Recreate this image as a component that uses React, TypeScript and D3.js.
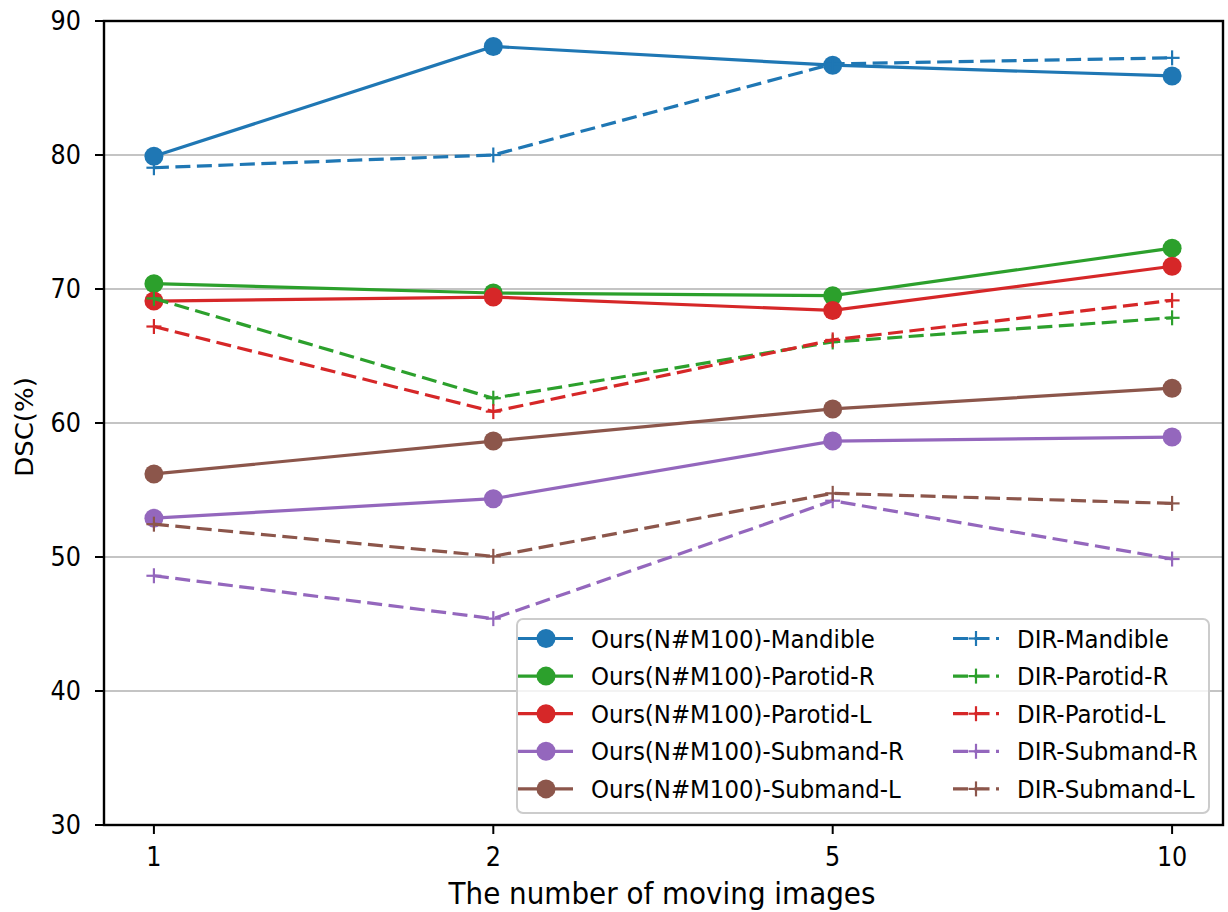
import React from "react";
import * as d3 from "d3";

const categories = ["1", "2", "5", "10"];
const organs = ["Mandible", "Parotid-R", "Parotid-L", "Submand-R", "Submand-L"];
const colors = ["#1f77b4", "#2ca02c", "#d62728", "#9467bd", "#8c564b"];

const oursMandible = [79.9, 88.1, 86.7, 85.9];
const oursParotidR = [70.4, 69.7, 69.5, 73.05];
const oursParotidL = [69.1, 69.4, 68.4, 71.7];
const oursSubmandR = [52.9, 54.35, 58.65, 58.95];
const oursSubmandL = [56.2, 58.65, 61.05, 62.6];

const dirMandible = [79.05, 80.0, 86.8, 87.25];
const dirParotidR = [69.3, 61.85, 66.05, 67.85];
const dirParotidL = [67.2, 60.85, 66.2, 69.15];
const dirSubmandR = [48.6, 45.4, 54.2, 49.85];
const dirSubmandL = [52.45, 50.05, 54.75, 54.0];

const yTicks = [30, 40, 50, 60, 70, 80, 90];

const oursSeries = [oursMandible, oursParotidR, oursParotidL, oursSubmandR, oursSubmandL];
const dirSeries = [dirMandible, dirParotidR, dirParotidL, dirSubmandR, dirSubmandL];

const FONT = "DejaVu Sans, sans-serif";

function T(props: {
  x: number;
  y: number;
  size: number;
  sx?: number;
  anchor?: "start" | "middle" | "end";
  rotate?: number;
  dy?: string;
  children: React.ReactNode;
}) {
  const { x, y, size, sx = 0.92, anchor = "start", rotate = 0, dy } = props;
  const tr = rotate
    ? `translate(${x},${y}) rotate(${rotate}) scale(1,${sx})`
    : `translate(${x},${y}) scale(${sx},1)`;
  return (
    <text transform={tr} textAnchor={anchor} fontFamily={FONT} fontSize={size} fill="#000" dy={dy}>
      {props.children}
    </text>
  );
}

export default function App() {
  const W = 1228, H = 912;
  const left = 104, right = 1223, top = 21, bottom = 825;
  const x = d3.scalePoint<string>().domain(categories).range([left - 1, right]).padding(0.15);
  const y = d3.scaleLinear().domain([30, 90]).range([bottom, top]);
  const line = d3.line<number>().x((_, i) => x(categories[i])!).y((d) => y(d));
  const lw = 3.2;
  const dash = "15,6.5";
  const ph = 7.5;

  const lgL = 517, lgT = 619, lgR = 1209, lgB = 813;
  const rowY = (i: number) => 638.5 + i * 37.6;

  return (
    <svg width={W} height={H} style={{ position: "absolute", left: 0, top: 0, background: "#fff" }}>
      <rect x={0} y={0} width={W} height={H} fill="#fff" />
      {yTicks.map((t) => (
        <line key={"g" + t} x1={left} x2={right} y1={y(t)} y2={y(t)} stroke="#b0b0b0" strokeWidth={1.6} />
      ))}
      {oursSeries.map((s, k) => (
        <g key={"o" + k}>
          <path d={line(s)!} fill="none" stroke={colors[k]} strokeWidth={lw} />
          {s.map((v, i) => (
            <circle key={i} cx={x(categories[i])} cy={y(v)} r={9.5} fill={colors[k]} />
          ))}
        </g>
      ))}
      {dirSeries.map((s, k) => (
        <g key={"d" + k}>
          <path d={line(s)!} fill="none" stroke={colors[k]} strokeWidth={lw} strokeDasharray={dash} />
          {s.map((v, i) => {
            const cx = x(categories[i])!, cy = y(v);
            return (
              <g key={i} stroke={colors[k]} strokeWidth={2.2}>
                <line x1={cx - ph} x2={cx + ph} y1={cy} y2={cy} />
                <line x1={cx} x2={cx} y1={cy - ph} y2={cy + ph} />
              </g>
            );
          })}
        </g>
      ))}
      <rect x={left} y={top} width={right - left} height={bottom - top} fill="none" stroke="#000" strokeWidth={2.4} />
      {yTicks.map((t) => (
        <g key={"yt" + t}>
          <line x1={left - 9} x2={left} y1={y(t)} y2={y(t)} stroke="#000" strokeWidth={2} />
          <T x={81} y={y(t)} size={26} anchor="end" dy="0.36em">
            {t}
          </T>
        </g>
      ))}
      {categories.map((c) => (
        <g key={"xt" + c}>
          <line x1={x(c)} x2={x(c)} y1={bottom} y2={bottom + 9} stroke="#000" strokeWidth={2} />
          <T x={x(c)!} y={866} size={26} anchor="middle">
            {c}
          </T>
        </g>
      ))}
      <T x={662} y={904} size={30} sx={0.927} anchor="middle">
        The number of moving images
      </T>
      <T x={33} y={427} size={26} rotate={-90} anchor="middle">
        DSC(%)
      </T>
      <rect
        x={lgL}
        y={lgT}
        width={lgR - lgL}
        height={lgB - lgT}
        rx={6}
        fill="#fff"
        fillOpacity={0.8}
        stroke="#cccccc"
        strokeWidth={2}
      />
      {organs.map((o, i) => (
        <g key={"lo" + i}>
          <line x1={518} x2={573} y1={rowY(i)} y2={rowY(i)} stroke={colors[i]} strokeWidth={lw} />
          <circle cx={546} cy={rowY(i)} r={9.5} fill={colors[i]} />
          <T x={591} y={rowY(i)} size={25} sx={0.916} dy="0.36em">
            {"Ours(N#M100)-" + o}
          </T>
        </g>
      ))}
      {organs.map((o, i) => (
        <g key={"ld" + i}>
          <line x1={953} x2={999} y1={rowY(i)} y2={rowY(i)} stroke={colors[i]} strokeWidth={lw} strokeDasharray={dash} />
          <g stroke={colors[i]} strokeWidth={2.2}>
            <line x1={976 - ph} x2={976 + ph} y1={rowY(i)} y2={rowY(i)} />
            <line x1={976} x2={976} y1={rowY(i) - ph} y2={rowY(i) + ph} />
          </g>
          <T x={1017} y={rowY(i)} size={25} sx={0.916} dy="0.36em">
            {"DIR-" + o}
          </T>
        </g>
      ))}
    </svg>
  );
}
